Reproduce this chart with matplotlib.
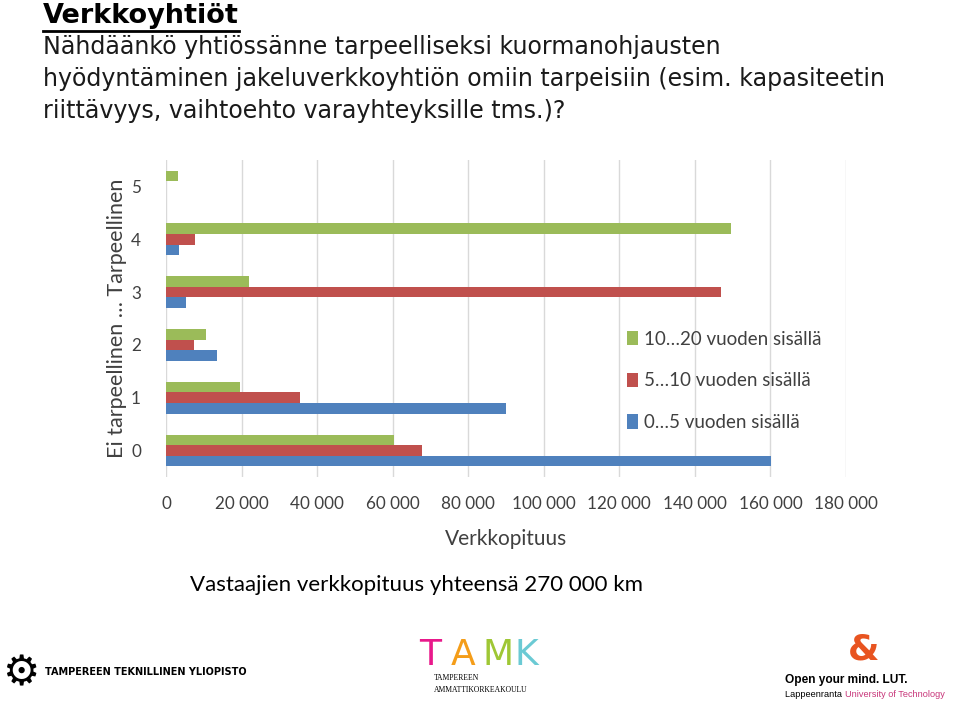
import matplotlib.pyplot as plt
from matplotlib.lines import Line2D
import numpy as np

categories = [0, 1, 2, 3, 4, 5]
series_names = ['10…20 vuoden sisällä', '5…10 vuoden sisällä', '0…5 vuoden sisällä']
green_vals = [60400, 19700, 10600, 21900, 149500, 3300]
red_vals = [67800, 35600, 7400, 146800, 7700, 0]
blue_vals = [160100, 90000, 13400, 5400, 3400, 0]
x_ticks = [0, 20000, 40000, 60000, 80000, 100000, 120000, 140000, 160000, 180000]
x_tick_labels = ['0', '20 000', '40 000', '60 000', '80 000', '100 000',
                 '120 000', '140 000', '160 000', '180 000']
question_lines = ['Nähdäänkö yhtiössänne tarpeelliseksi kuormanohjausten',
                  'hyödyntäminen jakeluverkkoyhtiön omiin tarpeisiin (esim. kapasiteetin',
                  'riittävyys, vaihtoehto varayhteyksille tms.)?']

body_font = 'Lato'
head_font = 'DejaVu Sans'

fig = plt.figure(figsize=(9.6, 7.06), dpi=100)
ax = fig.add_axes([0.1729, 0.3244, 0.7083, 0.449])

y = np.array(categories)
h = 0.2
colors = ['#9BBB59', '#C0504D', '#4F81BD']
offsets = [h, 0, -h]
for vals, off, col, name in zip([green_vals, red_vals, blue_vals], offsets, colors, series_names):
    ax.barh(y + off, vals, height=h, color=col, label=name, zorder=2)

ax.set_xlim(0, 180000)
ax.set_ylim(-0.5, 5.5)
ax.set_xticks(x_ticks)
ax.set_xticklabels(x_tick_labels, fontsize=12.3, family=body_font, color='#404040')
ax.set_yticks(categories)
ax.set_yticklabels([str(c) for c in categories], fontsize=12.3, family=body_font, color='#404040')
ax.tick_params(length=0)
ax.tick_params(axis='x', pad=14)
ax.tick_params(axis='y', pad=18)
ax.grid(axis='x', color='#D9D9D9', linewidth=1, zorder=0)
for s in ax.spines.values():
    s.set_visible(False)

ax.set_xlabel('Verkkopituus', fontsize=15, family=body_font, color='#404040', labelpad=12)
ax.set_ylabel('Ei tarpeellinen … Tarpeellinen', fontsize=15.5, family=body_font,
              color='#404040', labelpad=3)

leg = ax.legend(loc='center left', bbox_to_anchor=(0.653, 0.303), frameon=False,
                prop={'family': body_font, 'size': 13.5}, labelspacing=1.32,
                handlelength=0.6, handleheight=0.8, handletextpad=0.3)
for t in leg.get_texts():
    t.set_color('#404040')

# heading texts
title = fig.text(0.045, 1 - 23 / 706, 'Verkkoyhtiöt', fontsize=19.5, fontweight='bold',
                 family=head_font, va='baseline', ha='left')
for i, line in enumerate(question_lines):
    fig.text(0.045, 1 - (54 + 32 * i) / 706, line, fontsize=17.1, family=head_font,
             va='baseline', ha='left', color='#1a1a1a')

fig.canvas.draw()
renderer = fig.canvas.get_renderer()
bb = title.get_window_extent(renderer)
x0, x1 = bb.x0 / fig.bbox.width, bb.x1 / fig.bbox.width
yl = 1 - 30.5 / 706
fig.add_artist(Line2D([x0, x1], [yl, yl], color='black', linewidth=2.0,
                      transform=fig.transFigure))

fig.text(0.198, 0.171, 'Vastaajien verkkopituus yhteensä 270 000 km', fontsize=16,
         family=body_font, va='center', ha='left')

# logos as text
fig.text(0.002, 0.046, '⚙', fontsize=30, family='DejaVu Sans', va='center', ha='left')
fig.text(0.047, 0.048, 'TAMPEREEN TEKNILLINEN YLIOPISTO', fontsize=7,
         family='DejaVu Sans', fontweight='bold', va='center', ha='left')

tamk_colors = ['#E6007E', '#F39200', '#95C11F', '#5BC5D0']
tamk_letters = ['T', 'A', 'M', 'K']
for i, ch in enumerate(tamk_letters):
    fig.text(0.437 + i * 0.033, 0.072, ch, fontsize=26, family='DejaVu Sans',
             color=tamk_colors[i], va='center', ha='left', alpha=0.9)
fig.text(0.452, 0.031, 'TAMPEREEN\nAMMATTIKORKEAKOULU', fontsize=5.5,
         family='Liberation Serif', va='center', ha='left', linespacing=1.6)

fig.text(0.9, 0.08, '&', fontsize=26, family='DejaVu Sans', color='#E85420',
         va='center', ha='center', fontweight='bold')
fig.text(0.818, 0.037, 'Open your mind. LUT.', fontsize=8.6, family='Liberation Sans',
         fontweight='bold', va='center', ha='left')
lap = fig.text(0.818, 0.016, 'Lappeenranta ', fontsize=6.6, family='Liberation Sans',
               va='center', ha='left')
fig.canvas.draw()
lx = lap.get_window_extent(renderer).x1 / fig.bbox.width
fig.text(lx, 0.016, 'University of Technology', fontsize=6.6,
         family='Liberation Sans', color='#C8367A', va='center', ha='left')

fig.savefig('out.png', dpi=100)
